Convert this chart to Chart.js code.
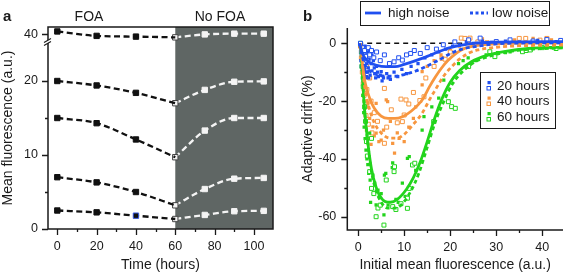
<!DOCTYPE html>
<html lang="en">
<head>
<meta charset="UTF-8">
<title>FOA adaptive drift</title>
<script src="https://cdn.jsdelivr.net/npm/chart.js"></script>
<style>
  body { margin: 0; background: #fff; }
  #wrap { position: relative; width: 568px; height: 274px; }
  .panel { position: absolute; top: 0; width: 284px; height: 274px; }
</style>
</head>
<body>
<div id="wrap">
  <div class="panel" style="left:0"><canvas id="chartA"></canvas></div>
  <div class="panel" style="left:284px"><canvas id="chartB"></canvas></div>
</div>
<script>
  // ---- panel a : mean fluorescence vs time ----
  const timeFoa = [0, 20, 40, 60];
  const timeNoFoa = [60, 75, 90, 105];
  const fl40Foa = [40.4, 39.8, 39.7, 39.6];
  const fl40NoFoa = [39.6, 40.0, 40.1, 40.1];
  const fl20Foa = [20.0, 19.4, 18.4, 17.0];
  const fl20NoFoa = [17.0, 18.8, 19.9, 19.95];
  const fl15Foa = [15.0, 14.3, 12.1, 9.7];
  const fl15NoFoa = [9.7, 13.3, 15.0, 15.0];
  const fl7Foa = [7.0, 6.3, 5.0, 3.2];
  const fl7NoFoa = [3.2, 5.4, 6.8, 6.9];
  const fl2Foa = [2.5, 2.25, 1.8, 1.35];
  const fl2NoFoa = [1.35, 1.9, 2.4, 2.45];
  const breakShift = 13.7;   // values above the axis break are drawn this much lower
  const aYTickVals = [0, 10, 20, 40];
  const aYMinor = [5, 15];
  const aXTickVals = [0, 20, 40, 60, 80, 100];
  const aXMinor = [10, 30, 50, 70, 90];

  // ---- panel b : adaptive drift vs initial fluorescence ----
  // [x, y] pairs, filled = high noise, open = low noise
  const blueHi = [[0.5,-0.5],[0.6,-2],[0.6,-6],[0.7,-4],[0.7,-8],[0.8,-1],[0.8,-5.5],[0.9,-6],[0.9,-9],[1.0,-3],[1.1,-8],[1.1,-10.5],[1.2,-5],[1.2,-9.5],[1.3,-2],[1.3,-11],[1.4,-9],[1.5,-1],[1.5,-6.5],[1.6,-12],[1.7,-4],[1.8,-10],[1.8,-11.5],[1.9,-7],[2.0,-3],[2.0,-10],[2.2,-8.5],[2.3,-12],[2.4,-5.5],[2.5,-2],[2.6,-11],[2.8,-7],[3.0,-4],[3.0,-9.5],[3.3,-6],[3.5,-8.5],[3.6,-10.5],[3.8,-12],[4.0,-8],[4.2,-10],[4.4,-11.5],[4.8,-11],[5.0,-9.8],[5.2,-13],[5.5,-12],[6.2,-10.5],[6.5,-12],[7.0,-12.5],[7.8,-10],[8.6,-11.5],[9.5,-9],[10.5,-10.5],[11.5,-8],[13,-7],[14.5,-5],[16,-4],[17.5,-3],[19,-2],[20.5,-1],[22,-0.5],[23.5,0.5],[25,0],[27,0.8],[29,0.3],[32,0.8],[35,0.4],[39,1],[43,0.6]];
  const blueLo = [[0.5,0],[0.7,-3],[0.9,-1.5],[1.0,-5],[1.2,-7],[1.4,-2.5],[1.6,-4.5],[1.9,-6],[2.2,-1.5],[2.5,-4],[2.9,-2.5],[3.4,-5],[4.0,-3],[4.8,-6],[5.7,-4],[6.8,-7],[7.8,-6.4],[8.8,-5],[9.6,-5.8],[10.5,-4],[11.4,-3.5],[12.2,-2.5],[13.5,-3.5],[15,-1.5],[17,-2],[18.5,-0.5],[21,0.5],[24,1.2],[26.5,1.8],[30,0.6],[33,1.2],[38,0.8],[41,1.3],[44,1]];
  const orangeHi = [[0.6,-3],[0.8,-8],[1.0,-12],[1.1,-16],[1.3,-20],[1.4,-24],[1.6,-27],[1.8,-30],[2.0,-22],[2.1,-20.8],[2.3,-33],[2.5,-26],[2.8,-35],[3.2,-28.9],[3.5,-32],[3.9,-20.8],[3.9,-31.1],[4.5,-34],[5.0,-33.5],[5.5,-30],[6.1,-19.6],[6.4,-20.2],[7.0,-27],[7.5,-34.6],[7.9,-38],[8.5,-31],[8.9,-32.9],[10,-34],[11,-29],[12,-26],[12.5,-22],[13.9,-14.4],[13.9,-9.8],[15,-8],[16.5,-6],[18,-4],[20,-2.5],[22,-1],[24,0.5],[27,1.5],[30,0.8],[34,1.2],[38,1.7],[42,1.2]];
  const orangeLo = [[0.5,-1],[0.7,-5],[0.9,-10],[1.1,-14],[1.3,-18],[1.5,-22],[1.7,-25],[1.8,-8],[1.9,-16],[2.2,-28],[2.5,-12],[2.8,-20],[3.0,-31],[3.5,-24],[4.2,-27],[5.7,-15.6],[5.7,-34.6],[6.2,-29],[7.2,-23],[8.5,-27.5],[9.3,-19.3],[9.6,-27.1],[10,-24.8],[10.4,-19.6],[11,-21],[12,-17],[13.4,-19.8],[14.3,-18.5],[14.7,-12],[16.5,-8],[18.2,-5.2],[18.9,-5.5],[20,-3],[22.4,1.8],[23.2,1.7],[24.3,1.8],[26,0.5],[28,0.2],[33,0.8],[35,1.7],[36.4,1.7],[39.5,1.1],[41,1.7]];
  const greenHi = [[0.5,-1],[0.7,-6],[0.9,-12],[1.0,-18],[1.2,-24],[1.3,-29],[1.5,-33],[1.7,-37],[1.9,-40],[2.1,-42],[2.3,-45],[2.5,-31.1],[2.6,-47.3],[2.7,-55],[3.2,-45.6],[3.6,-48.4],[3.9,-55.9],[4.3,-50.8],[4.6,-53],[5.0,-52],[5.6,-59.4],[5.7,-45.6],[6.0,-45],[6.5,-56],[7.4,-43],[7.5,-41.4],[8.2,-54],[8.7,-55],[9.6,-48.4],[10.2,-53],[10.7,-39.8],[11.1,-39.2],[12.5,-44],[13.9,-30],[14.3,-25.4],[16,-22],[17.5,-19],[18.6,-12.7],[19.6,-20.2],[21.8,-7],[22.8,-6],[23.9,-5],[25.5,-6],[27.8,-4],[30.3,-3.2],[32,-3.2],[33,-3],[38,-1.8],[42,-1.5]];
  const greenLo = [[0.5,0],[0.8,-8],[1.1,-15],[1.4,-22],[1.6,-27],[1.8,-34],[2.0,-39],[2.5,-44.4],[2.9,-32.9],[2.9,-50.2],[3.4,-52],[3.9,-60],[4.3,-57],[4.8,-56],[5.6,-62.9],[6.1,-47.3],[7.5,-56.5],[7.8,-44.4],[7.9,-42.7],[8.2,-57.5],[9.3,-55.5],[10.7,-53.6],[10.7,-57.1],[11.1,-50.2],[11.8,-42.1],[12.3,-41.5],[16.4,-27.1],[19.6,-20.2],[20.3,-21.9],[21.1,-22.5],[24,-8],[28.6,-2.9],[29.7,-4.6],[35.7,-2.9],[36.5,-2.5],[37.4,-2.3],[40,-1.5],[43,-1.8]];
  // fitted curves
  const blueHiFit = [[0.3,0],[0.8,-3],[1.5,-5.2],[2.5,-6.6],[4,-7.6],[6,-8.1],[8,-8.1],[10,-7.3],[12.5,-6],[15,-4.5],[17.5,-2.9],[20,-1.5],[22.5,-0.6],[25,0],[30,0.4],[35,0.5],[44.5,0.6]];
  const blueLoFit = [[0.3,0],[0.8,-4],[1.5,-7.5],[2.5,-9.6],[4,-10.8],[6,-11.4],[8,-11.4],[10,-10.8],[12.5,-9.6],[15,-7.8],[17.5,-5.8],[20,-3.6],[22.5,-2],[25,-1.2],[30,-0.2],[35,0.1],[44.5,0.2]];
  const orangeHiFit = [[0.5,0],[1,-8],[1.5,-13.5],[2.5,-19],[3.5,-22.5],[5,-25.2],[6.5,-26],[8,-26],[9.6,-25.4],[11.5,-23.5],[13.9,-19.6],[15.5,-15],[16.8,-11.6],[18,-8.8],[19.6,-5.8],[22.4,-2.3],[25,-1],[28,-0.4],[32,0],[44.5,0.2]];
  const orangeLoFit = [[0.5,0],[1,-9],[1.5,-16],[2.5,-23],[3.5,-27.5],[5,-31],[7,-32.8],[8.5,-32.8],[10,-31.5],[12,-28],[13.9,-24.2],[15.5,-19.5],[16.8,-16],[18.5,-11.5],[20.3,-8.1],[22,-5.5],[23.9,-3.5],[26,-2.3],[28.2,-1.7],[33,-1],[44.5,-0.6]];
  const greenHiFit = [[0.5,0],[0.9,-10],[1.3,-21],[1.8,-30],[2.3,-37],[2.9,-43.5],[3.9,-49.8],[4.8,-53],[5.9,-54.8],[7,-55],[8.5,-54],[10.5,-50.5],[12,-46.5],[13.5,-41],[15,-34],[16.5,-26.5],[18,-20],[20,-13.5],[22,-9.5],[24.6,-6.4],[28,-4.2],[32,-2.8],[37,-1.8],[44.5,-1.3]];
  const greenLoFit = [[0.5,0],[0.9,-10],[1.3,-21],[1.8,-30],[2.3,-37.5],[2.9,-44.5],[3.9,-51],[5,-55],[6.4,-57],[8,-57],[9.3,-56],[11.4,-51.3],[13.2,-44.9],[14.8,-37],[16.8,-27],[18.5,-20.5],[20.5,-14],[23.2,-9],[25.5,-6.3],[27.5,-5],[31,-3.4],[36,-2.2],[44.5,-1.6]];
  const hoursLabels = ['20 hours', '40 hours', '60 hours'];
  const noiseLabels = ['high noise', 'low noise'];
  const bXTickVals = [0, 10, 20, 30, 40];
  const bXMinor = [5, 15, 25, 35];
  const bYTickVals = [0, -20, -40, -60];
  const bYMinor = [-10, -30, -50];

  const FONT = "'Liberation Sans', Arial, Helvetica, sans-serif";
  const INK = '#1a1a1a';
  const BLUE = '#1f4ff0', ORANGE = '#f7963f', GREEN = '#22d41c';
  const GRAY = '#5f6664';

  const disp = v => v > 30 ? v - breakShift : v;

  function tickMarks(ctx, scale, vals, len) {
    ctx.beginPath();
    vals.forEach(v => {
      const p = Math.round(scale.getPixelForValue(v)) + 0.5;
      if (scale.isHorizontal()) { ctx.moveTo(p, scale.top); ctx.lineTo(p, scale.top + len); }
      else { ctx.moveTo(scale.right, p); ctx.lineTo(scale.right - len, p); }
    });
    ctx.stroke();
  }

  // ---------- chart a ----------
  const seriesA = [[fl40Foa, fl40NoFoa], [fl20Foa, fl20NoFoa], [fl15Foa, fl15NoFoa], [fl7Foa, fl7NoFoa], [fl2Foa, fl2NoFoa]];
  const datasetsA = [];
  seriesA.forEach(([foa, nofoa], k) => {
    datasetsA.push({
      data: timeFoa.map((t, i) => ({ x: t, y: disp(foa[i]) })),
      showLine: true, borderColor: '#111', borderWidth: 2.3, borderDash: [6, 3.5],
      cubicInterpolationMode: 'monotone', tension: 0.4,
      pointStyle: 'rect', pointRadius: [3.8, 3.8, 3.8, 0],
      pointBackgroundColor: '#111',
      pointBorderColor: k === 4 ? ['#111', '#111', '#3a5be0', '#111'] : '#111',
      pointBorderWidth: 1
    });
    datasetsA.push({
      data: timeNoFoa.map((t, i) => ({ x: t, y: disp(nofoa[i]) })),
      showLine: true, borderColor: '#f4f4f4', borderWidth: 2.3, borderDash: [6, 3.5],
      cubicInterpolationMode: 'monotone', tension: 0.4,
      pointStyle: 'rect', pointRadius: 3.8,
      pointBackgroundColor: '#f4f4f4',
      pointBorderColor: ['#444', '#f4f4f4', '#f4f4f4', '#f4f4f4'],
      pointBorderWidth: 1
    });
  });

  const panelA = {
    id: 'panelA',
    beforeDatasetsDraw(chart) {
      const { ctx, chartArea: ca, scales: { x } } = chart;
      ctx.save();
      ctx.fillStyle = GRAY;
      const x60 = x.getPixelForValue(60);
      ctx.fillRect(x60, ca.top, ca.right - x60, ca.bottom - ca.top);
      ctx.restore();
    },
    afterDraw(chart) {
      const { ctx, chartArea: ca, scales: { x, y } } = chart;
      ctx.save();
      ctx.strokeStyle = INK;
      ctx.lineWidth = 1.5;
      ctx.strokeRect(ca.left, ca.top, ca.right - ca.left, ca.bottom - ca.top);
      ctx.lineWidth = 1.3;
      tickMarks(ctx, x, aXTickVals, 6);
      tickMarks(ctx, x, aXMinor, 3);
      tickMarks(ctx, y, aYTickVals.map(disp), 6);
      tickMarks(ctx, y, aYMinor, 3);
      // axis break
      const yb = y.getPixelForValue(25.35);
      ctx.fillStyle = '#fff';
      ctx.beginPath();
      ctx.moveTo(ca.left - 4, yb + 1); ctx.lineTo(ca.left + 3, yb - 3);
      ctx.lineTo(ca.left + 3, yb + 0); ctx.lineTo(ca.left - 4, yb + 4);
      ctx.closePath(); ctx.fill();
      ctx.lineWidth = 1.1;
      ctx.beginPath();
      ctx.moveTo(ca.left - 4, yb + 1); ctx.lineTo(ca.left + 3, yb - 3);
      ctx.moveTo(ca.left - 4, yb + 4); ctx.lineTo(ca.left + 3, yb + 0);
      ctx.stroke();
      // labels
      ctx.fillStyle = INK;
      ctx.font = 'bold 15px ' + FONT;
      ctx.textBaseline = 'alphabetic';
      ctx.textAlign = 'left';
      ctx.fillText('a', 3, 21);
      ctx.font = '14px ' + FONT;
      ctx.textAlign = 'center';
      ctx.fillText('FOA', 89, 21);
      ctx.fillText('No FOA', 220, 21);
      ctx.restore();
    }
  };

  new Chart(document.getElementById('chartA'), {
    type: 'scatter',
    data: { datasets: datasetsA },
    options: {
      responsive: true, maintainAspectRatio: false, animation: false, devicePixelRatio: 1,
      layout: { padding: { left: 0, right: 11, top: 27, bottom: 0 } },
      plugins: { legend: { display: false }, tooltip: { enabled: false } },
      scales: {
        x: {
          type: 'linear', min: -4.73, max: 109.7,
          afterFit: s => { s.height = 45; },
          afterBuildTicks: s => { s.ticks = aXTickVals.map(v => ({ value: v })); },
          grid: { display: false, drawTicks: false }, border: { display: false },
          ticks: { color: INK, padding: 10, font: { family: FONT, size: 12.5 }, maxRotation: 0 },
          title: { display: true, text: 'Time (hours)', color: INK, font: { family: FONT, size: 14 }, padding: { top: 0, bottom: 0.6 } }
        },
        y: {
          type: 'linear', min: 0, max: 27.3,
          afterFit: s => { s.width = 48; },
          afterBuildTicks: s => { s.ticks = aYTickVals.map(v => ({ value: disp(v) })); },
          grid: { display: false, drawTicks: false }, border: { display: false },
          ticks: {
            color: INK, padding: 10, font: { family: FONT, size: 12.5 },
            callback: v => String(aYTickVals[aYTickVals.map(disp).findIndex(d => Math.abs(d - v) < 1e-6)])
          },
          title: { display: true, text: 'Mean fluorescence (a.u.)', color: INK, font: { family: FONT, size: 14 }, padding: { top: 0, bottom: 0 } }
        }
      }
    },
    plugins: [panelA]
  });

  // ---------- chart b ----------
  const pts = arr => arr.map(([x, y]) => ({ x, y }));
  const fitSet = (arr, color, dashed) => ({
    data: pts(arr), showLine: true, borderColor: color, borderWidth: 2.8,
    borderDash: dashed ? [4, 3] : [], cubicInterpolationMode: 'monotone', tension: 0.4,
    pointRadius: 0, order: 0
  });
  const filledSet = (arr, color, order) => ({
    data: pts(arr), pointStyle: 'rect', pointRadius: 2.3, pointBackgroundColor: color,
    pointBorderColor: color, pointBorderWidth: 0, order
  });
  const openSet = (arr, color, order) => ({
    data: pts(arr), pointStyle: 'rect', pointRadius: 2.8, pointBackgroundColor: '#fff',
    pointBorderColor: color, pointBorderWidth: 1, order
  });
  const datasetsB = [
    fitSet(blueHiFit, BLUE, false), fitSet(blueLoFit, BLUE, true),
    fitSet(orangeHiFit, ORANGE, false), fitSet(orangeLoFit, ORANGE, true),
    fitSet(greenHiFit, GREEN, false), fitSet(greenLoFit, GREEN, true),
    openSet(blueLo, BLUE, 1), filledSet(blueHi, BLUE, 1),
    openSet(greenLo, GREEN, 2), filledSet(greenHi, GREEN, 2),
    openSet(orangeLo, ORANGE, 3), filledSet(orangeHi, ORANGE, 3)
  ];

  const panelB = {
    id: 'panelB',
    beforeDatasetsDraw(chart) {
      const { ctx, chartArea: ca, scales: { x, y } } = chart;
      ctx.save();
      ctx.strokeStyle = '#111';
      ctx.lineWidth = 1.4;
      ctx.setLineDash([5, 4]);
      const y0 = y.getPixelForValue(0);
      ctx.beginPath();
      ctx.moveTo(x.getPixelForValue(0), y0);
      ctx.lineTo(ca.right, y0);
      ctx.stroke();
      ctx.restore();
    },
    afterDraw(chart) {
      const { ctx, chartArea: ca, scales: { x, y } } = chart;
      ctx.save();
      ctx.strokeStyle = INK;
      ctx.lineWidth = 1.5;
      ctx.beginPath();
      ctx.moveTo(ca.left, ca.top); ctx.lineTo(ca.left, ca.bottom); ctx.lineTo(ca.right, ca.bottom);
      ctx.stroke();
      ctx.lineWidth = 1.3;
      tickMarks(ctx, x, bXTickVals, 6);
      tickMarks(ctx, x, bXMinor, 3);
      tickMarks(ctx, y, bYTickVals, 6);
      tickMarks(ctx, y, bYMinor, 3);

      ctx.fillStyle = INK;
      ctx.font = 'bold 15px ' + FONT;
      ctx.textAlign = 'left';
      ctx.textBaseline = 'alphabetic';
      ctx.fillText('b', 19, 21);

      // noise legend
      ctx.fillStyle = '#fff';
      ctx.fillRect(76.5, 1.5, 189, 24);
      ctx.lineWidth = 1;
      ctx.strokeStyle = INK;
      ctx.strokeRect(76.5, 1.5, 189, 24);
      ctx.strokeStyle = BLUE;
      ctx.lineWidth = 2.8;
      ctx.beginPath(); ctx.moveTo(81, 13); ctx.lineTo(97, 13); ctx.stroke();
      ctx.setLineDash([3, 2.5]);
      ctx.beginPath(); ctx.moveTo(186, 13); ctx.lineTo(204, 13); ctx.stroke();
      ctx.setLineDash([]);
      ctx.fillStyle = INK;
      ctx.font = '13.5px ' + FONT;
      ctx.textBaseline = 'middle';
      ctx.fillText(noiseLabels[0], 104, 13.5);
      ctx.fillText(noiseLabels[1], 208, 13.5);

      // hours legend
      ctx.fillStyle = '#fff';
      ctx.fillRect(196.5, 72.5, 75, 56);
      ctx.lineWidth = 1;
      ctx.strokeStyle = INK;
      ctx.strokeRect(196.5, 72.5, 75, 56);
      const cols = [BLUE, ORANGE, GREEN];
      const ys = [86, 101.5, 117];
      hoursLabels.forEach((lab, i) => {
        ctx.fillStyle = cols[i];
        ctx.fillRect(203.5, ys[i] - 5, 3.2, 3.2);
        ctx.fillStyle = '#fff';
        ctx.strokeStyle = cols[i];
        ctx.fillRect(203, ys[i] + 0.5, 3.5, 3.5);
        ctx.strokeRect(203, ys[i] + 0.5, 3.5, 3.5);
        ctx.fillStyle = INK;
        ctx.fillText(lab, 213, ys[i]);
      });
      ctx.restore();
    }
  };

  new Chart(document.getElementById('chartB'), {
    type: 'scatter',
    data: { datasets: datasetsB },
    options: {
      responsive: true, maintainAspectRatio: false, animation: false, devicePixelRatio: 1,
      layout: { padding: { left: 15, right: 2, top: 28, bottom: 0 } },
      plugins: { legend: { display: false }, tooltip: { enabled: false } },
      scales: {
        x: {
          type: 'linear', min: -2.36, max: 44.5,
          afterFit: s => { s.height = 44; },
          afterBuildTicks: s => { s.ticks = bXTickVals.map(v => ({ value: v })); },
          grid: { display: false, drawTicks: false }, border: { display: false },
          ticks: { color: INK, padding: 10, font: { family: FONT, size: 12.5 }, maxRotation: 0 },
          title: { display: true, text: 'Initial mean fluorescence (a.u.)', color: INK, font: { family: FONT, size: 14 }, padding: { top: 0, bottom: 0.6 } }
        },
        y: {
          type: 'linear', min: -64.6, max: 5.3,
          afterFit: s => { s.width = 48.3; },
          afterBuildTicks: s => { s.ticks = bYTickVals.map(v => ({ value: v })); },
          grid: { display: false, drawTicks: false }, border: { display: false },
          ticks: { color: INK, padding: 11, font: { family: FONT, size: 12.5 } },
          title: { display: true, text: 'Adaptive drift (%)', color: INK, font: { family: FONT, size: 14 }, padding: { top: 0.6, bottom: 0 } }
        }
      }
    },
    plugins: [panelB]
  });
</script>
</body>
</html>
